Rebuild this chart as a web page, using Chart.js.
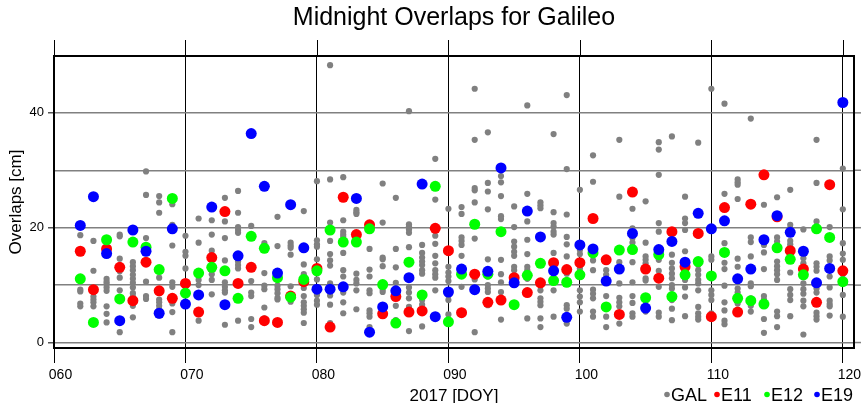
<!DOCTYPE html>
<html>
<head>
<meta charset="utf-8">
<title>Midnight Overlaps for Galileo</title>
<script src="https://cdn.jsdelivr.net/npm/chart.js@4.4.1/dist/chart.umd.min.js"></script>
<style>
  html, body { margin: 0; padding: 0; background: #fff; }
  #wrap { width: 861px; height: 403px; }
</style>
</head>
<body>
<div id="wrap"><canvas id="overlapChart" width="861" height="403"></canvas></div>
<script>
// day of year 2017
const days = [62, 63, 64, 65, 66, 67, 68, 69, 70, 71, 72, 73, 74, 75, 76, 77, 78, 79, 80,
  81, 82, 83, 84, 85, 86, 87, 88, 89, 90, 91, 92, 93, 94, 95, 96, 97, 98, 99, 100,
  101, 102, 103, 104, 105, 106, 107, 108, 109, 110, 111, 112, 113, 114, 115, 116, 117, 118, 119, 120];

const e11 = [15.9, 9.2, 16.3, 13.1, 7.3, 14.0, 9.0, 7.7, 10.3, 5.3, 14.8, 22.8, 10.3, 13.1, 3.8, 3.5, 8.1, 10.6, 12.9,
  2.7, 25.3, 18.8, 20.5, 5.0, 8.0, 5.3, 5.5, 19.9, 16.0, 5.2, 11.9, 7.0, 7.4, 11.3, 8.7, 10.4, 13.9, 12.7, 13.9,
  21.6, 14.4, 4.9, 26.2, 12.8, 11.2, 19.3, 13.2, 19.0, 4.5, 23.5, 5.3, 24.1, 29.2, 21.9, 16.0, 12.8, 7.0, 27.5, 12.5];

const e12 = [11.1, 3.5, 17.9, 7.6, 17.5, 16.6, 12.7, 25.1, 8.6, 12.1, 13.1, 12.5, 7.7, 18.5, 16.4, 11.3, 7.9, 11.0, 12.5,
  19.6, 17.5, 17.5, 19.8, 10.1, 3.4, 14.0, 8.3, 27.2, 3.6, 11.9, 20.6, 11.9, 19.3, 6.6, 11.7, 13.8, 10.8, 10.5, 11.8,
  15.6, 6.2, 16.1, 16.2, 7.8, 15.3, 8.0, 11.8, 14.1, 11.6, 15.7, 7.7, 7.3, 6.7, 16.5, 14.5, 11.8, 19.8, 18.3, 10.6];

const e19 = [20.4, 25.4, 15.5, 3.8, 19.6, 15.9, 5.1, 19.8, 6.7, 8.3, 23.6, 6.6, 15.1, 36.4, 27.2, 12.1, 24.0, 16.5, 9.3,
  9.3, 9.7, 25.1, 1.8, 6.2, 9.0, 11.3, 27.6, 4.5, 8.8, 12.8, 9.2, 12.4, 30.4, 10.4, 22.9, 18.4, 12.5, 4.4, 17.0,
  16.3, 10.7, 12.8, 19.0, 6.0, 16.2, 17.6, 14.0, 22.5, 19.8, 21.2, 11.1, 12.8, 17.9, 22.1, 19.2, 15.9, 10.4, 12.9, 41.8];

// all other Galileo satellites, one list per day
const gal = [
  [18.7, 11.1, 9.2, 8.9, 6.8, 6.3],
  [17.7, 12.5, 9.2, 8.0, 7.5, 7.0, 6.3],
  [11.1, 10.6, 10.2, 9.6, 9.0, 6.3, 5.0, 3.5],
  [18.8, 18.5, 14.6, 12.4, 11.3, 9.1, 1.8],
  [14.0, 13.3, 12.6, 11.8, 11.1, 10.4, 9.6, 8.6, 8.0, 6.4, 4.4],
  [29.8, 25.7, 18.2, 16.8, 10.6, 8.1, 7.6],
  [25.5, 24.4, 22.6, 11.3, 7.5, 7.0, 6.4, 5.8, 5.2, 4.7],
  [24.1, 20.5, 16.9, 10.5, 9.7, 7.7, 6.8, 5.3, 1.8],
  [18.6, 15.8, 15.1, 12.9, 9.1],
  [21.6, 17.4, 11.7, 10.9, 10.0, 5.3, 3.8],
  [21.3, 18.8, 16.0, 14.8, 12.6, 11.9, 10.9, 8.4],
  [25.2, 21.1, 18.2, 14.3, 10.5, 9.7, 9.1, 8.7, 3.1],
  [26.4, 22.6, 20.1, 19.6, 19.1, 14.1, 13.5, 12.9, 10.3, 7.7, 3.8],
  [20.3, 13.1, 10.7, 8.7, 8.1, 4.1, 2.7],
  [17.3, 12.1, 9.9, 9.3, 6.1, 4.2, 3.8],
  [21.9, 16.8, 9.9, 9.3, 8.6, 7.8, 7.5],
  [17.4, 16.9, 16.5, 15.3, 9.8, 7.1],
  [22.9, 13.6, 11.9, 9.5, 8.1, 7.0, 6.4, 5.8, 5.2, 3.4],
  [28.1, 17.8, 17.1, 16.7, 14.5, 11.0, 9.1, 8.3, 7.3, 6.6],
  [48.3, 28.4, 20.9, 19.4, 17.7, 15.4, 14.3, 13.4, 10.3, 8.2, 6.6, 3.4],
  [28.8, 21.3, 19.3, 18.8, 18.4, 15.6, 12.6, 11.5, 8.7, 7.0, 5.1],
  [23.1, 22.7, 22.4, 12.0, 10.9, 10.3, 9.1, 5.8],
  [16.3, 12.7, 11.5, 9.1, 8.6, 5.6, 5.1, 4.5, 2.7],
  [27.7, 20.9, 14.8, 14.5, 13.3, 9.2, 8.8, 5.9],
  [25.2, 16.3, 13.1, 10.4, 6.4, 3.9],
  [40.3, 20.6, 20.2, 19.7, 19.1, 16.6, 9.6, 8.7, 7.7, 6.2, 5.8, 2.0],
  [17.0, 15.6, 14.8, 14.1, 13.5, 12.6, 12.0, 7.4, 6.6, 2.8],
  [32.0, 24.9, 18.6, 17.2, 15.1, 13.8, 12.6, 11.9, 11.3, 9.1],
  [23.3, 15.6, 13.2, 12.2, 11.5, 10.7, 8.2, 7.4, 4.9],
  [23.6, 22.4, 18.3, 17.7, 17.0, 15.1, 9.7],
  [44.2, 35.3, 26.9, 26.5, 24.4, 18.1, 11.0, 1.8],
  [36.6, 27.8, 26.3, 23.2, 14.5, 11.5, 10.0, 9.4, 8.8, 6.5],
  [29.0, 27.9, 25.5, 22.0, 21.5, 14.4, 11.9, 10.5, 8.8, 4.0],
  [23.7, 20.1, 17.6, 16.7, 15.8, 15.1, 13.2, 12.6],
  [41.3, 25.9, 21.1, 17.9, 15.4, 13.2, 12.6, 11.1, 4.2],
  [24.4, 23.9, 23.4, 10.0, 9.1, 7.7, 7.1, 6.5, 4.2, 2.7],
  [36.3, 22.7, 20.8, 20.2, 19.3, 18.8, 15.6, 9.1, 4.5],
  [43.1, 30.2, 22.3, 18.4, 17.1, 15.0, 12.6, 12.0, 6.5, 5.9, 3.3],
  [26.6, 16.1, 15.4, 12.9, 12.3, 9.1, 8.0, 7.0, 5.4],
  [32.6, 28.0, 14.3, 12.6, 9.2, 8.5, 7.7, 5.4, 4.5],
  [12.6, 11.8, 8.1, 6.2, 4.5, 2.7],
  [35.3, 25.4, 14.0, 13.2, 10.3, 7.8, 7.0, 6.3, 3.3],
  [23.3, 19.9, 18.2, 17.4, 16.7, 14.0, 10.5, 8.1, 6.9, 5.1, 4.5],
  [24.6, 17.4, 15.0, 14.4, 13.8, 11.2, 10.8, 7.3, 5.4],
  [34.9, 33.6, 29.2, 20.8, 19.3, 16.1, 15.1, 14.4, 12.5, 11.2, 9.7, 5.2, 4.5],
  [35.9, 15.3, 13.9, 12.9, 12.0, 11.2, 10.0, 9.4, 7.4, 5.9, 3.9],
  [25.4, 21.6, 20.8, 19.6, 15.9, 10.9, 9.6, 8.0, 4.6],
  [34.8, 18.6, 13.5, 12.6, 11.8, 10.9, 10.3, 9.1, 6.2, 5.1, 4.5, 4.0],
  [44.2, 15.0, 14.4, 11.2, 9.1, 8.3, 7.4, 5.1],
  [41.6, 25.9, 17.3, 13.9, 12.8, 9.9, 7.0, 5.6, 3.8, 3.2],
  [28.4, 27.9, 27.5, 25.0, 14.6, 13.2, 9.4, 8.7, 8.0, 6.8],
  [39.0, 18.3, 17.5, 15.0, 10.3, 9.8, 7.7, 6.4, 5.4],
  [24.0, 17.0, 15.7, 12.8, 8.1, 7.5, 4.1, 1.7],
  [25.3, 18.3, 17.6, 14.1, 13.3, 12.6, 11.9, 10.9, 5.4, 4.6, 2.7],
  [26.6, 20.5, 19.9, 17.7, 17.1, 16.6, 12.2, 9.3, 8.3, 7.4, 4.6],
  [19.7, 14.7, 13.8, 10.3, 9.3, 8.5, 7.3, 6.3, 1.4],
  [35.3, 27.8, 21.1, 13.8, 13.2, 12.5, 9.4, 8.7, 5.2, 4.6, 4.0],
  [20.1, 15.0, 14.3, 11.5, 9.6, 7.3, 6.7, 6.3, 4.7],
  [30.3, 23.2, 17.3, 15.5, 14.4, 11.9, 8.3, 4.5]
];

const xTicksMin = 60;
const xTicksMax = 120.85;
const yMin = -0.95;
const yMax = 49.9;

document.addEventListener('DOMContentLoaded', function () {

    Chart.defaults.font.family = "'Liberation Sans', Arial, sans-serif";
    Chart.defaults.color = '#000';

    const galPoints = [];
    days.forEach((d, i) => gal[i].forEach(v => galPoints.push({ x: d, y: v })));
    const toPoints = arr => arr.map((v, i) => ({ x: days[i], y: v }));

    // frame, ticks above the plot, grid lines running out to the right edge
    const framePlugin = {
        id: 'frame',
        beforeDatasetsDraw(chart) {
            const { ctx, chartArea: a, scales: { x, y } } = chart;
            ctx.save();
            ctx.strokeStyle = '#808080';
            ctx.lineWidth = 1.5;
            y.ticks.forEach(t => {
                const py = y.getPixelForValue(t.value);
                ctx.beginPath();
                ctx.moveTo(a.right, py);
                ctx.lineTo(chart.width, py);
                ctx.stroke();
            });
            ctx.strokeStyle = '#000';
            ctx.lineWidth = 1;
            x.ticks.forEach(t => {
                const px = Math.round(x.getPixelForValue(t.value)) + 0.5;
                ctx.beginPath();
                ctx.moveTo(px, a.top - 16);
                ctx.lineTo(px, a.top);
                ctx.stroke();
            });
            ctx.lineWidth = 2;
            ctx.strokeRect(a.left, a.top, a.right - a.left, a.bottom - a.top);
            ctx.restore();
        }
    };

    const legendPlugin = {
        id: 'bottomLegend',
        afterDraw(chart) {
            const { ctx, chartArea: a } = chart;
            ctx.save();
            ctx.font = "18px 'Liberation Sans', Arial, sans-serif";
            ctx.textBaseline = 'alphabetic';
            let lx = a.right - 187;
            chart.data.datasets.forEach(ds => {
                ctx.fillStyle = ds.backgroundColor;
                ctx.beginPath();
                ctx.arc(lx, chart.height - 8.5, 2.8, 0, Math.PI * 2);
                ctx.fill();
                ctx.fillStyle = '#000';
                ctx.fillText(ds.label, lx + 4, chart.height - 2.5);
                lx += 50;
            });
            ctx.restore();
        }
    };

    const ctx = document.getElementById('overlapChart').getContext('2d');
    const overlapChart = new Chart(ctx, {
        type: 'scatter',
        data: {
            datasets: [
                { label: 'GAL', data: galPoints, backgroundColor: '#808080', borderColor: '#808080', pointRadius: 3.1, borderWidth: 0, order: 4 },
                { label: 'E11', data: toPoints(e11), backgroundColor: '#ff0000', borderColor: '#ff0000', pointRadius: 5.5, borderWidth: 0, order: 3 },
                { label: 'E12', data: toPoints(e12), backgroundColor: '#00ff00', borderColor: '#00ff00', pointRadius: 5.5, borderWidth: 0, order: 2 },
                { label: 'E19', data: toPoints(e19), backgroundColor: '#0000ff', borderColor: '#0000ff', pointRadius: 5.5, borderWidth: 0, order: 1 }
            ]
        },
        options: {
            responsive: false,
            animation: false,
            events: [],
            layout: {
                padding: { left: 0, right: 7, top: 0, bottom: 0 }
            },
            scales: {
                x: {
                    type: 'linear',
                    min: xTicksMin,
                    max: xTicksMax,
                    afterFit: s => { s.height = 55; },
                    border: { display: false },
                    grid: { color: '#000', lineWidth: 1, tickLength: 15, tickColor: '#000' },
                    ticks: {
                        stepSize: 10,
                        includeBounds: false,
                        padding: 4,
                        labelOffset: 6.5,
                        maxRotation: 0,
                        font: { size: 14 },
                        callback: v => String(v).padStart(3, '0')
                    },
                    title: {
                        display: true,
                        text: '2017 [DOY]',
                        font: { size: 17 },
                        padding: { top: 0, bottom: -4 }
                    }
                },
                y: {
                    min: yMin,
                    max: yMax,
                    afterFit: s => { s.width = 54; },
                    border: { display: false },
                    grid: {
                        color: '#808080',
                        lineWidth: 1.5,
                        tickLength: 6,
                        tickColor: c => (c.tick && c.tick.value % 20 === 0 ? '#555' : 'rgba(0,0,0,0)')
                    },
                    ticks: {
                        stepSize: 10,
                        includeBounds: false,
                        padding: 4,
                        font: { size: 13 },
                        callback: v => (v % 20 === 0 ? String(v) : '')
                    },
                    title: {
                        display: true,
                        text: 'Overlaps [cm]',
                        font: { size: 17 },
                        padding: { top: 6, bottom: 0 }
                    }
                }
            },
            plugins: {
                legend: { display: false },
                tooltip: { enabled: false },
                title: {
                    display: true,
                    text: 'Midnight Overlaps for Galileo',
                    fullSize: false,
                    font: { size: 25, weight: 'normal' },
                    color: '#000',
                    padding: { top: 3.5, bottom: 22.5 }
                }
            }
        },
        plugins: [framePlugin, legendPlugin]
    });

});
</script>
</body>
</html>
